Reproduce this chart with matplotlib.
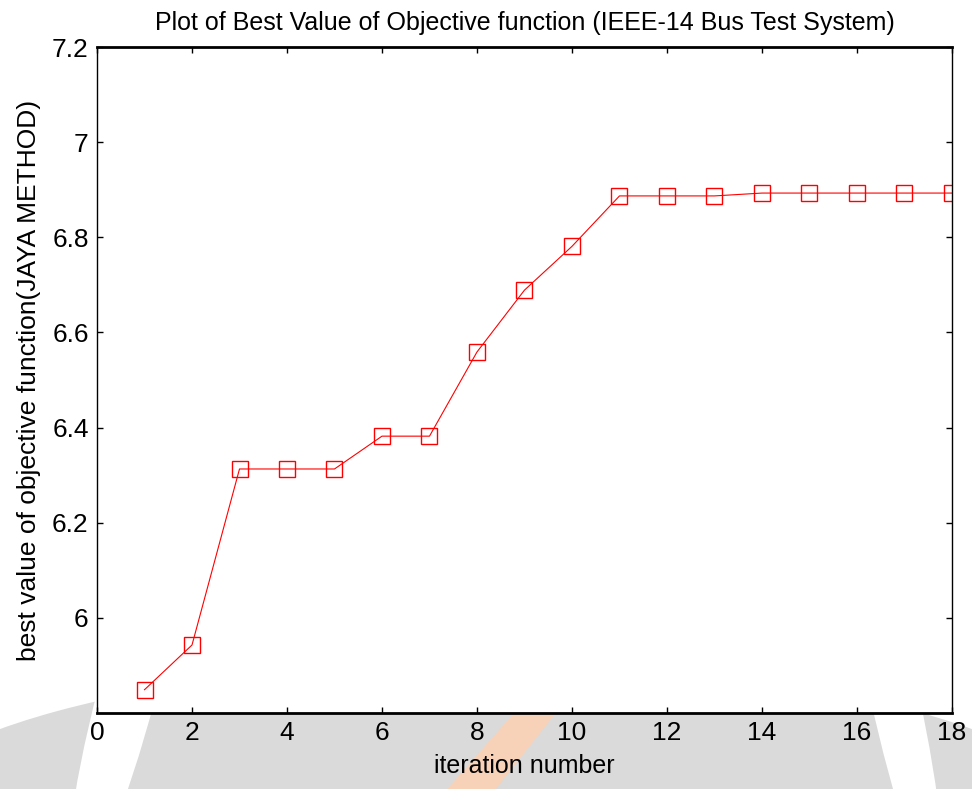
import matplotlib
matplotlib.use('Agg')
import matplotlib.pyplot as plt
from matplotlib.patches import Ellipse, Polygon

plt.rcParams['font.family'] = ['Liberation Sans', 'DejaVu Sans']

iterations = list(range(1, 19))
best_value = [5.849, 5.943, 6.313, 6.313, 6.313, 6.382, 6.382, 6.559, 6.689,
              6.781, 6.887, 6.887, 6.887, 6.893, 6.893, 6.893, 6.893, 6.893]
xticks = [0, 2, 4, 6, 8, 10, 12, 14, 16, 18]
yticks = [6, 6.2, 6.4, 6.6, 6.8, 7, 7.2]
ytick_labels = ['6', '6.2', '6.4', '6.6', '6.8', '7', '7.2']

fig = plt.figure(figsize=(9.72, 7.89), dpi=100)

# faint watermark behind the plot
fig.patches.append(Ellipse((0.5, -0.05), 1.25, 0.42, transform=fig.transFigure,
                           facecolor='#dadada', edgecolor='none', zorder=-5))
fig.patches.append(Ellipse((0.13, 0.12), 0.06, 0.5, angle=-12, transform=fig.transFigure,
                           facecolor='white', edgecolor='none', zorder=-4))
fig.patches.append(Ellipse((0.92, 0.12), 0.05, 0.5, angle=10, transform=fig.transFigure,
                           facecolor='white', edgecolor='none', zorder=-4))
fig.patches.append(Polygon([(0.46, 0.0), (0.51, 0.0), (0.60, 0.14), (0.56, 0.14)],
                           closed=True, transform=fig.transFigure,
                           facecolor='#f7d2b8', edgecolor='none', zorder=-3))

ax = fig.add_axes([0.0998, 0.0963, 0.8796, 0.8441])
ax.set_facecolor('white')
ax.plot(iterations, best_value, color='red', linewidth=0.8, marker='s',
        markersize=11, markerfacecolor='none', markeredgecolor='red',
        markeredgewidth=1.0)

ax.set_xlim(0, 18)
ax.set_ylim(5.8, 7.2)
ax.set_xticks(xticks)
ax.set_yticks(yticks)
ax.set_yticklabels(ytick_labels)
ax.tick_params(direction='in', top=True, right=True, length=4, width=1,
               labelsize=19, pad=6)
for s in ax.spines.values():
    s.set_linewidth(1.0)
ax.spines['bottom'].set_linewidth(2.0)
ax.spines['top'].set_linewidth(2.0)

ax.set_title('Plot of Best Value of Objective function (IEEE-14 Bus Test System)',
             fontsize=18, pad=12)
ax.set_xlabel('iteration number', fontsize=18, labelpad=6)
ax.set_ylabel('best value of objective function(JAYA METHOD)', fontsize=19, labelpad=8)

fig.savefig('out.png', dpi=100)
